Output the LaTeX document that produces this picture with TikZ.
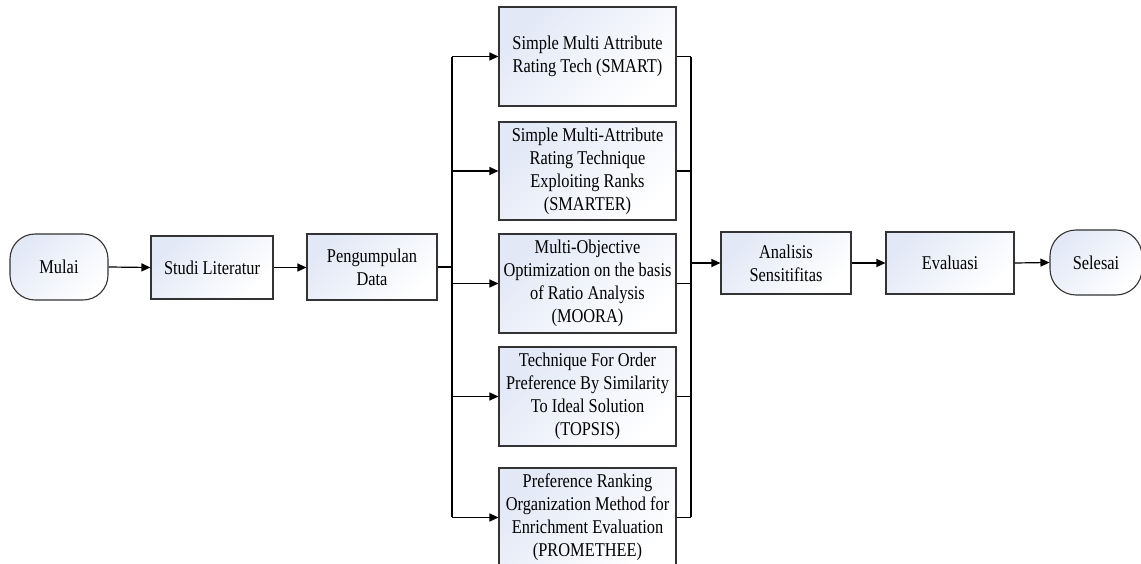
\documentclass[tikz,border=0pt]{standalone}
\usepackage{fontspec}
\setmainfont{Liberation Serif}[FakeStretch=0.84]
\usetikzlibrary{arrows.meta}
\definecolor{boxblue}{RGB}{226,232,246}
\tikzset{
  box/.style={draw=black!80, line width=1.1pt, top color=boxblue, bottom color=white, shading angle=45,
    inner sep=0pt, align=center, font=\fontsize{19.5}{23}\selectfont},
  term/.style={box, rounded corners=25pt},
  conn/.style={draw=black, line width=1.2pt},
  arr/.style={conn, -{Triangle[length=9pt,width=8pt]}},
}
\begin{document}
\begin{tikzpicture}[x=1pt,y=-1pt]
\useasboundingbox (0,0) rectangle (1141,564);
% left chain
\node[term, minimum width=98pt, minimum height=66pt] (mulai) at (59,267) {Mulai};
\node[box, minimum width=122pt, minimum height=63pt] (studi) at (212,267.5) {Studi Literatur};
\node[box, minimum width=130pt, minimum height=66pt] (peng) at (372,267) {Pengumpulan\\Data};
% methods
\node[box, minimum width=177pt, minimum height=99pt] (smart) at (587.5,56.5) {Simple Multi Attribute\\Rating Tech (SMART)};
\node[box, minimum width=177pt, minimum height=98pt] (smarter) at (587.5,171) {Simple Multi-Attribute\\Rating Technique\\Exploiting Ranks\\(SMARTER)};
\node[box, minimum width=177pt, minimum height=99pt] (moora) at (587.5,283.5) {Multi-Objective\\Optimization on the basis\\of Ratio Analysis\\(MOORA)};
\node[box, minimum width=177pt, minimum height=99pt] (topsis) at (587.5,396.5) {Technique For Order\\Preference By Similarity\\To Ideal Solution\\(TOPSIS)};
\node[box, minimum width=177pt, minimum height=99pt] (prom) at (587.5,517.5) {Preference Ranking\\Organization Method for\\Enrichment Evaluation\\(PROMETHEE)};
% right chain
\node[box, minimum width=130pt, minimum height=62pt] (anal) at (786,263) {Analisis\\Sensitifitas};
\node[box, minimum width=128pt, minimum height=62pt] (eval) at (950,263) {Evaluasi};
\node[term, rounded corners=26pt, minimum width=92pt, minimum height=65pt] (sel) at (1096,262.5) {Selesai};
% branch coordinates
\coordinate (bx) at (452,267);
\coordinate (btop) at (452,57);
\coordinate (bbot) at (452,517);
\coordinate (rtop) at (691,57);
\coordinate (rbot) at (691,517);
\coordinate (rmid) at (691,263);
% connectors
\draw[arr] (mulai.east) -- (studi.west);
\draw[arr] (studi.east) -- (peng.west |- studi.east);
\draw[conn] (peng.east) -- (bx);
\draw[conn] (btop) -- (bbot);
\foreach \n in {smart,smarter,moora,topsis,prom}{
  \draw[arr] (btop |- \n.west) -- (\n.west);
  \draw[conn] (\n.east) -- (rtop |- \n.east);
}
\draw[conn] (rtop) -- (rbot);
\draw[arr] (rmid) -- (anal.west);
\draw[arr] (anal.east) -- (eval.west);
\draw[arr] (eval.east) -- (sel.west);
\end{tikzpicture}
\end{document}
